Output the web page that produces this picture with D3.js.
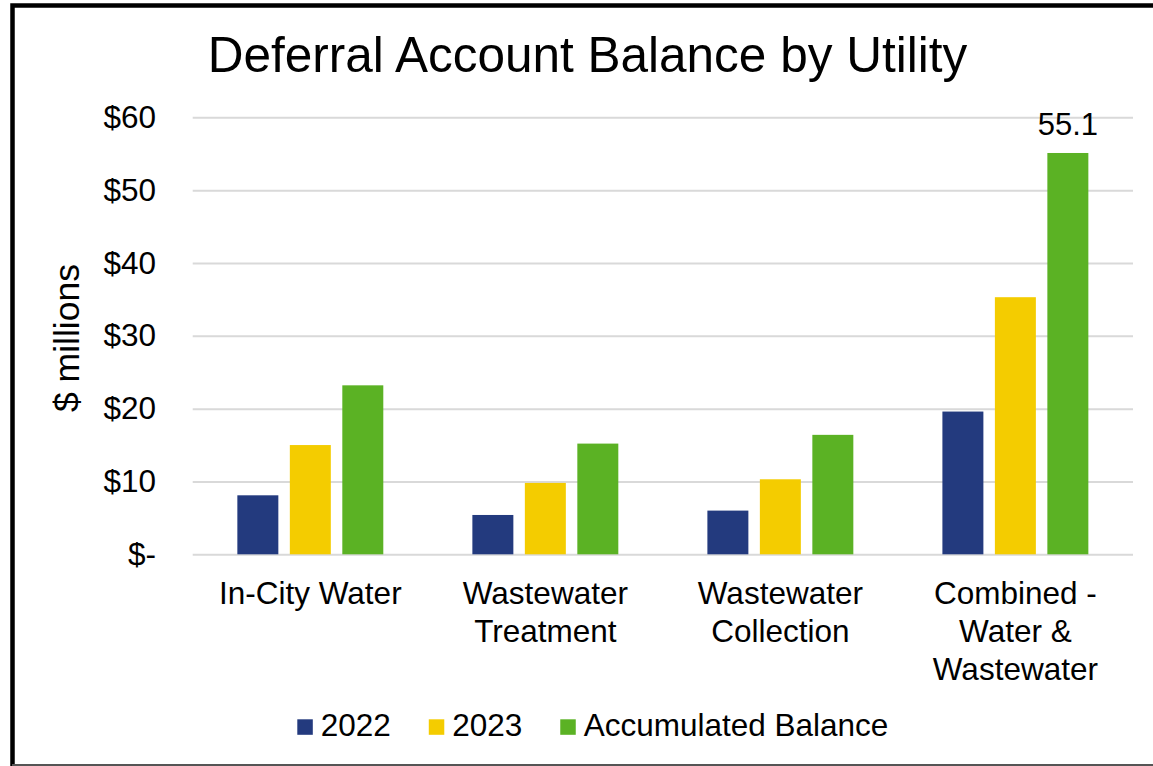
<!DOCTYPE html>
<html>
<head>
<meta charset="utf-8">
<script src="https://cdn.jsdelivr.net/npm/d3@7"></script>
<style>
  body { margin: 0; background: #fff; }
  svg { display: block; font-family: "Liberation Sans", Arial, sans-serif; }
</style>
</head>
<body>
<div id="chart"></div>
<script>
var width = 1153;
var height = 766;

// values ($ millions)
var categories = ["In-City Water", "Wastewater Treatment", "Wastewater Collection", "Combined - Water & Wastewater"];
var seriesNames = ["2022", "2023", "Accumulated Balance"];
var values2022 = [8.1, 5.4, 6.0, 19.6];
var values2023 = [15.0, 9.8, 10.3, 35.3];
var valuesAccum = [23.2, 15.2, 16.4, 55.1];
var yTicks = [0, 10, 20, 30, 40, 50, 60];
var colors = ["#233a7e", "#f4cc00", "#5bb224"];

var seriesValues = [values2022, values2023, valuesAccum];
var rows = categories.map(function(c, i) {
    return { cat: c, vals: seriesValues.map(function(s, j) { return { key: seriesNames[j], value: s[i] }; }) };
});

var svg = d3.select("#chart")
    .append("svg")
    .attr("width", width)
    .attr("height", height);

svg.append("rect").attr("width", width).attr("height", height).attr("fill", "#fff");

// frame (cut on the right side like the picture)
svg.append("path")
    .attr("d", "M12.5," + (height + 5) + "V5.5H" + (width + 5))
    .attr("fill", "none")
    .attr("stroke", "#000")
    .attr("stroke-width", 4.5);
svg.append("line")
    .attr("x1", 12).attr("x2", width)
    .attr("y1", 765).attr("y2", 765)
    .attr("stroke", "#555")
    .attr("stroke-width", 2);

// plot area (window.top is read-only, so no "top" here)
var plotLeft = 192.7, plotRight = 1133, plotTop = 117.3, plotBottom = 554.3;

var x0 = d3.scaleBand().domain(categories).range([plotLeft, plotRight])
    .paddingInner(0.379).paddingOuter(0.19);
var x1 = d3.scaleBand().domain(seriesNames).range([0, x0.bandwidth()])
    .paddingInner(0.219).paddingOuter(0);
var y = d3.scaleLinear().domain([0, 60]).range([plotBottom, plotTop]);

// y axis + gridlines
var yAxis = d3.axisLeft(y)
    .tickValues(yTicks)
    .tickSize(-(plotRight - plotLeft))
    .tickPadding(36.7)
    .tickFormat(function(d) { return d === 0 ? "$-" : "$" + d; });

var gy = svg.append("g")
    .attr("transform", "translate(" + plotLeft + ",0)")
    .call(yAxis);
gy.select(".domain").remove();
gy.selectAll(".tick line").attr("stroke", "#d9d9d9").attr("stroke-width", 2);
gy.selectAll(".tick text")
    .attr("fill", "#000")
    .style("font-size", "31.5px")
    .attr("font-family", null);

// bars
var groups = svg.append("g").selectAll("g")
    .data(rows)
    .enter()
    .append("g")
    .attr("transform", function(d) { return "translate(" + x0(d.cat) + ",0)"; });

groups.selectAll("rect")
    .data(function(d) { return d.vals; })
    .enter()
    .append("rect")
    .attr("x", function(d) { return x1(d.key); })
    .attr("y", function(d) { return y(d.value); })
    .attr("width", x1.bandwidth())
    .attr("height", function(d) { return plotBottom - y(d.value); })
    .attr("fill", function(d, i) { return colors[i]; });

// data label on the largest accumulated balance
var last = categories.length - 1;
svg.append("text")
    .attr("x", x0(categories[last]) + x1(seriesNames[2]) + x1.bandwidth() / 2)
    .attr("y", y(valuesAccum[last]) - 18)
    .attr("text-anchor", "middle")
    .style("font-size", "31px")
    .text(d3.format(".1f")(valuesAccum[last]));

// category axis with wrapped labels
var xAxis = d3.axisBottom(x0).tickSize(0).tickPadding(27);
var gx = svg.append("g")
    .attr("transform", "translate(0," + plotBottom + ")")
    .call(xAxis);
gx.select(".domain").remove();
gx.selectAll(".tick text")
    .attr("fill", "#000")
    .style("font-size", "31.5px")
    .attr("font-family", null)
    .call(wrap, 200);

function wrap(text, maxW) {
    text.each(function() {
        var t = d3.select(this);
        var words = t.text().split(/\s+/);
        var yy = t.attr("y");
        var dy = parseFloat(t.attr("dy"));
        t.text(null);
        var line = [];
        var n = 0;
        var tspan = t.append("tspan").attr("x", 0).attr("y", yy).attr("dy", dy + "em");
        words.forEach(function(w) {
            line.push(w);
            tspan.text(line.join(" "));
            if (tspan.node().getComputedTextLength() > maxW && line.length > 1) {
                line.pop();
                tspan.text(line.join(" "));
                line = [w];
                n++;
                tspan = t.append("tspan").attr("x", 0).attr("y", yy)
                    .attr("dy", (dy + n * 1.21) + "em").text(w);
            }
        });
    });
}

// y axis title
svg.append("text")
    .attr("transform", "translate(79,338) rotate(-90)")
    .attr("text-anchor", "middle")
    .style("font-size", "35.5px")
    .text("$ millions");

// title
svg.append("text")
    .attr("x", 587.5)
    .attr("y", 72)
    .attr("text-anchor", "middle")
    .style("font-size", "49.5px")
    .text("Deferral Account Balance by Utility");

// legend
var legend = svg.append("g").attr("transform", "translate(297.3,0)");
var lx = 0;
seriesNames.forEach(function(name, i) {
    legend.append("rect")
        .attr("x", lx).attr("y", 719.3)
        .attr("width", 15.5).attr("height", 15.5)
        .attr("fill", colors[i]);
    var t = legend.append("text")
        .attr("x", lx + 23.4)
        .attr("y", 736)
        .style("font-size", "31.5px")
        .text(name);
    lx += 23.4 + t.node().getComputedTextLength() + 38;
});
</script>
</body>
</html>
